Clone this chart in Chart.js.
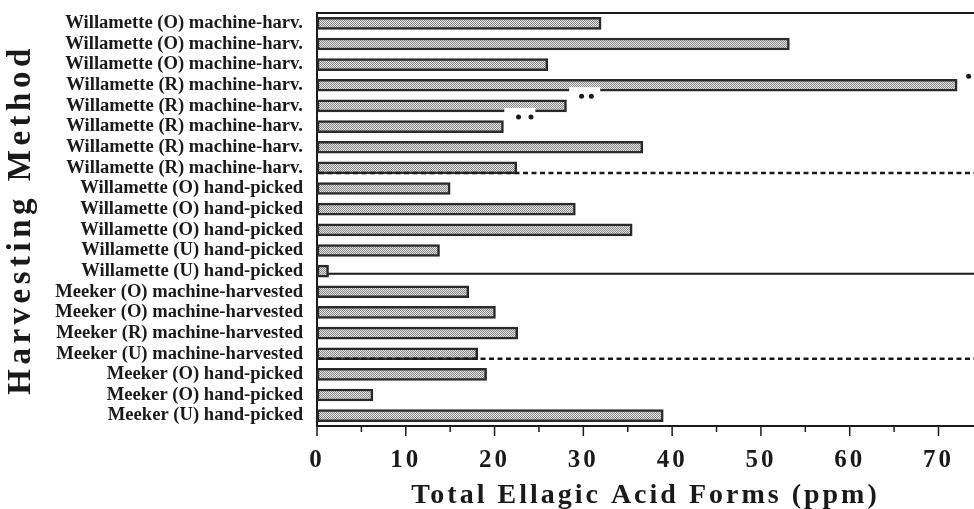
<!DOCTYPE html>
<html>
<head>
<meta charset="utf-8">
<script src="https://cdn.jsdelivr.net/npm/chart.js@4.4.1/dist/chart.umd.min.js"></script>
<style>
  html, body { margin: 0; padding: 0; background: #fff; }
  #wrap { width: 974px; height: 509px; }
</style>
</head>
<body>
<div id="wrap"><canvas id="c" width="974" height="509"></canvas></div>
<script>
// ---- data ----
const categories = [
  'Willamette (O) machine-harv.',
  'Willamette (O) machine-harv.',
  'Willamette (O) machine-harv.',
  'Willamette (R) machine-harv.',
  'Willamette (R) machine-harv.',
  'Willamette (R) machine-harv.',
  'Willamette (R) machine-harv.',
  'Willamette (R) machine-harv.',
  'Willamette (O) hand-picked',
  'Willamette (O) hand-picked',
  'Willamette (O) hand-picked',
  'Willamette (U) hand-picked',
  'Willamette (U) hand-picked',
  'Meeker (O) machine-harvested',
  'Meeker (O) machine-harvested',
  'Meeker (R) machine-harvested',
  'Meeker (U) machine-harvested',
  'Meeker (O) hand-picked',
  'Meeker (O) hand-picked',
  'Meeker (U) hand-picked'
];
const ellagicValues = [32, 53.2, 26, 72.1, 28.1, 21, 36.7, 22.5, 15, 29.1, 35.5, 13.8, 1.3, 17.1, 20.1, 22.6, 18.1, 19.1, 6.3, 39];
const xMin = 0;
const xMax = 74;
const majorStep = 10;
const minorStep = 5;
const dashedAfterRows = [7, 16];   // group separators (dashed)
const solidAfterRows = [12];       // cultivar separator (solid)
const singleStars = [{ row: 3, value: 73.4 }];
const doubleStars = [{ row: 3, values: [29.8, 30.9], gap: [28.4, 31.9] },
                     { row: 4, values: [22.7, 24.1], gap: [21.1, 24.6] }];

// ---- stipple pattern ----
function makePattern() {
  const p = document.createElement('canvas');
  p.width = 2; p.height = 2;
  const g = p.getContext('2d');
  g.fillStyle = '#e4e4e4'; g.fillRect(0, 0, 2, 2);
  g.fillStyle = '#888888'; g.fillRect(0, 0, 1, 1); g.fillRect(1, 1, 1, 1);
  return g.createPattern(p, 'repeat');
}
const ctx0 = document.getElementById('c').getContext('2d');
const pattern = makePattern();

const INK = '#1a1a1a';
const SERIF = '"Liberation Serif", "Times New Roman", serif';

function spaced(scale, method, spacing) {
  const key = '__sp_' + method;
  if (scale[key]) return;
  const orig = scale[method];
  scale[method] = function () {
    this.ctx.save();
    this.ctx.letterSpacing = spacing;
    orig.apply(this, arguments);
    this.ctx.restore();
  };
  scale[key] = true;
}

const decor = {
  id: 'decor',
  beforeDraw(chart) {
    spaced(chart.scales.x, 'drawLabels', '3px');
    spaced(chart.scales.x, 'drawTitle', '3px');
    spaced(chart.scales.y, 'drawTitle', '4.5px');
  },
  beforeDatasetsDraw(chart) {
    const { ctx, chartArea: a, scales: { y } } = chart;
    ctx.save();
    ctx.strokeStyle = INK;
    ctx.lineWidth = 2;
    solidAfterRows.forEach(r => {
      const yy = y.getPixelForValue(r) + 2.5;
      ctx.beginPath(); ctx.moveTo(a.left, yy); ctx.lineTo(chart.width, yy); ctx.stroke();
    });
    ctx.restore();
  },
  afterDatasetsDraw(chart) {
    const { ctx, chartArea: a, scales: { x, y } } = chart;
    ctx.save();
    // top frame line
    ctx.strokeStyle = INK; ctx.lineWidth = 2;
    ctx.beginPath(); ctx.moveTo(a.left, a.top); ctx.lineTo(chart.width, a.top); ctx.stroke();
    // dashed separators
    ctx.setLineDash([5, 3.5]);
    ctx.lineWidth = 2.5;
    dashedAfterRows.forEach(r => {
      const yy = y.getPixelForValue(r) + 5;
      ctx.beginPath(); ctx.moveTo(a.left + 2, yy); ctx.lineTo(chart.width, yy); ctx.stroke();
    });
    ctx.setLineDash([]);
    // minor / major ticks
    ctx.lineWidth = 1.5;
    x.ticks.forEach(t => {
      const px = x.getPixelForValue(t.value);
      const len = (t.value % majorStep === 0) ? 10 : 6;
      ctx.beginPath(); ctx.moveTo(px, a.bottom); ctx.lineTo(px, a.bottom + len); ctx.stroke();
    });
    // notches + double stars
    ctx.fillStyle = '#fff';
    doubleStars.forEach(d => {
      const cy = y.getPixelForValue(d.row);
      const x1 = x.getPixelForValue(d.gap[0]), x2 = x.getPixelForValue(d.gap[1]);
      ctx.fillRect(x1, cy + 2, x2 - x1, 6);
    });
    ctx.fillStyle = INK;
    doubleStars.forEach(d => {
      const cy = y.getPixelForValue(d.row) + 11;
      d.values.forEach(v => {
        ctx.beginPath(); ctx.arc(x.getPixelForValue(v), cy, 2.5, 0, Math.PI * 2); ctx.fill();
      });
    });
    singleStars.forEach(s => {
      const cy = y.getPixelForValue(s.row) - 9;
      ctx.beginPath(); ctx.arc(x.getPixelForValue(s.value), cy, 2.5, 0, Math.PI * 2); ctx.fill();
    });
    ctx.restore();
  }
};

new Chart(ctx0, {
  type: 'bar',
  data: {
    labels: categories,
    datasets: [{
      data: ellagicValues,
      backgroundColor: pattern,
      borderColor: '#2a2a2a',
      borderWidth: 2.5,
      borderSkipped: false,
      barThickness: 12
    }]
  },
  options: {
    indexAxis: 'y',
    responsive: false,
    animation: false,
    events: [],
    layout: { padding: { top: 13, right: 0, left: 0, bottom: 0 } },
    plugins: { legend: { display: false }, tooltip: { enabled: false } },
    scales: {
      x: {
        type: 'linear',
        min: xMin, max: xMax,
        ticks: {
          stepSize: minorStep,
          includeBounds: false,
          autoSkip: false,
          maxRotation: 0,
          color: INK,
          padding: 12,
          font: { family: SERIF, size: 25, weight: 'bold' },
          callback: v => (v % majorStep === 0 ? String(v) : '')
        },
        afterBuildTicks: s => { s.ticks = s.ticks.filter(t => t.value % minorStep === 0); },
        afterFit: s => { s.height = 83; s.paddingLeft = 0; s.paddingRight = 0; },
        grid: { display: false },
        border: { display: true, color: INK, width: 2 },
        title: {
          display: true,
          text: 'Total Ellagic Acid Forms (ppm)',
          color: INK,
          font: { family: SERIF, size: 28, weight: 'bold' },
          padding: { top: 0, bottom: -4 }
        }
      },
      y: {
        type: 'category',
        ticks: {
          color: INK,
          padding: 14,
          autoSkip: false,
          font: { family: SERIF, size: 18.6, weight: 'bold' }
        },
        afterFit: s => { s.width = 317; s.paddingTop = 0; s.paddingBottom = 0; },
        grid: { display: false, drawTicks: false, tickLength: 0 },
        border: { display: true, color: INK, width: 2 },
        title: {
          display: true,
          text: 'Harvesting Method',
          color: INK,
          font: { family: SERIF, size: 33, weight: 'bold' },
          padding: { top: 2, bottom: 0 }
        }
      }
    }
  },
  plugins: [decor]
});
</script>
</body>
</html>
